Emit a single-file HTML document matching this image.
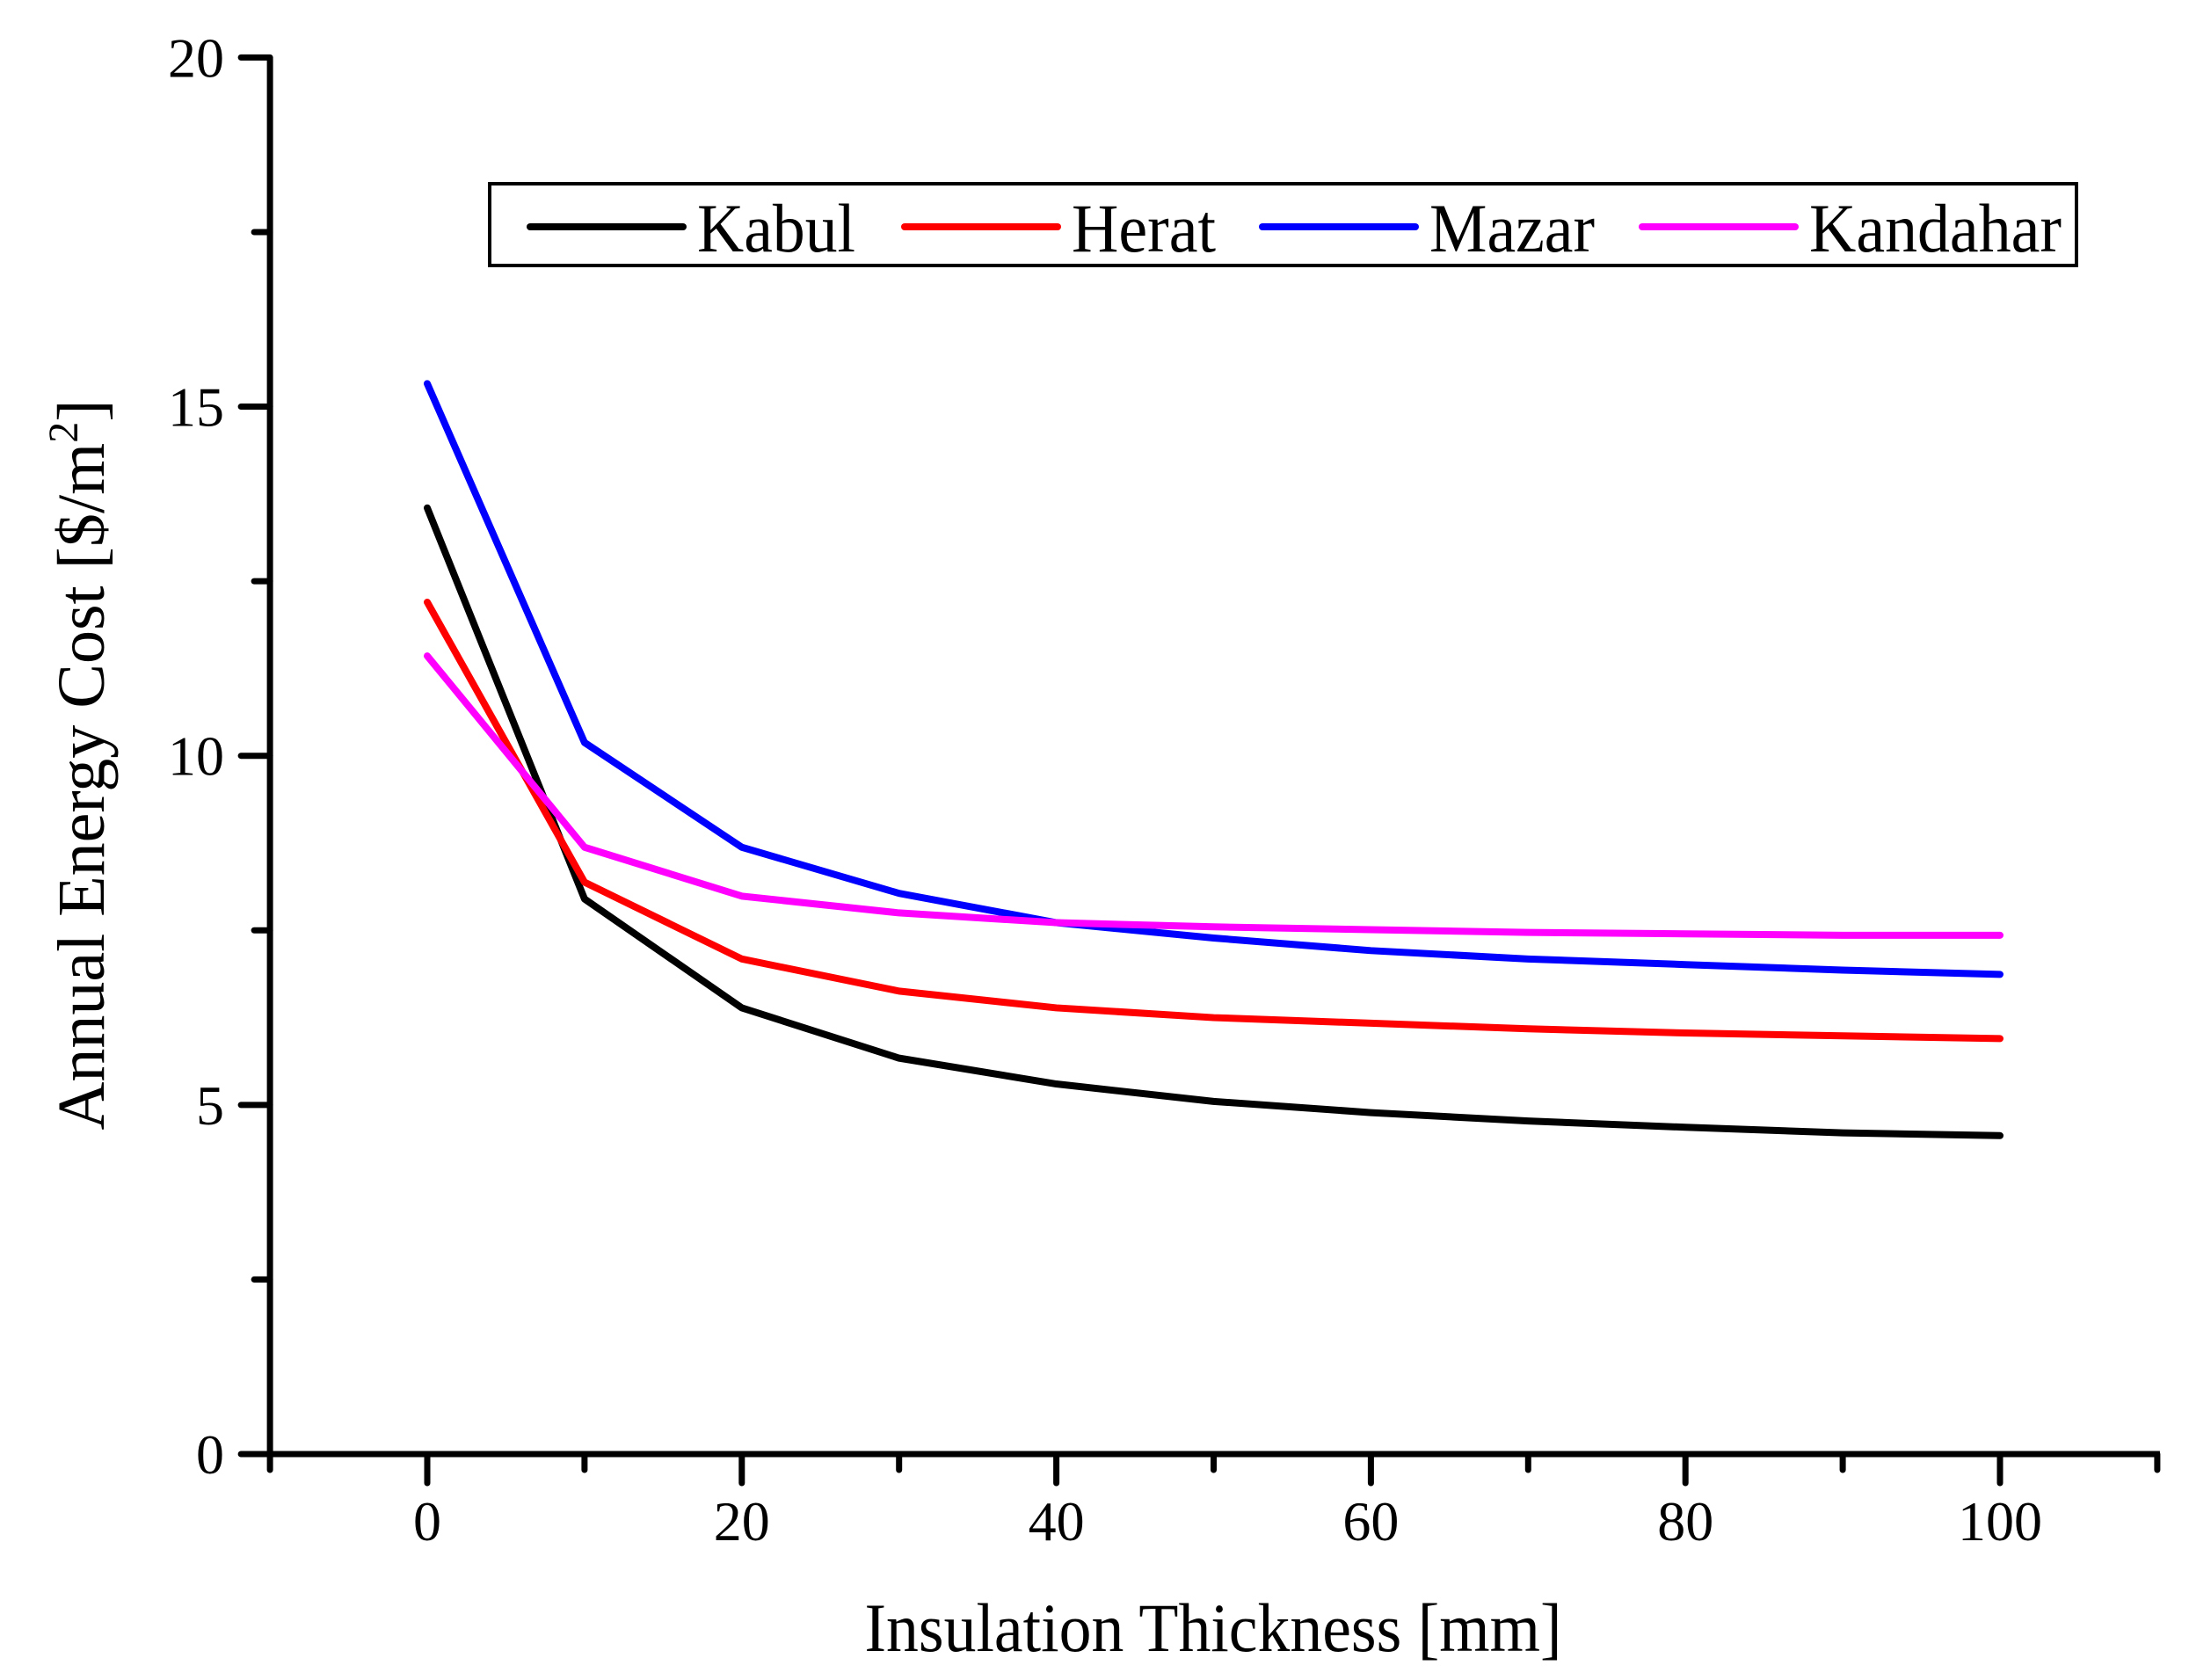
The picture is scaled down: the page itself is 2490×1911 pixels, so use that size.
<!DOCTYPE html>
<html><head><meta charset="utf-8"><style>
html,body{margin:0;padding:0;background:#fff;}
svg{display:block;font-family:"Liberation Serif","DejaVu Serif",serif;}
</style></head><body>
<svg id="chart" xmlns="http://www.w3.org/2000/svg" width="2490" height="1911" viewBox="0 0 2490 1911">
<g id="axes"></g>
<g id="series"></g>
<g id="legend">
  <rect x="557" y="209" width="1805" height="93" fill="#fff" stroke="#000" stroke-width="4"/>
</g>
<text x="1380" y="1878" font-size="78" text-anchor="middle" textLength="793" lengthAdjust="spacingAndGlyphs">Insulation Thickness [mm]</text>
<text transform="translate(118,870) rotate(-90)" font-size="76" text-anchor="middle">Annual Energy Cost [$/m<tspan dy="-30" font-size="48">2</tspan><tspan dy="30">]</tspan></text>
</svg>
<script>
const xValues = [0,10,20,30,40,50,60,70,80,90,100];
const kabul = [13.55,7.95,6.39,5.67,5.3,5.05,4.89,4.77,4.68,4.6,4.56];
const herat = [12.2,8.19,7.09,6.63,6.39,6.25,6.17,6.09,6.03,5.99,5.95];
const mazar = [15.33,10.19,8.69,8.03,7.61,7.39,7.21,7.09,7.01,6.93,6.87];
const kandahar = [11.43,8.69,7.99,7.75,7.61,7.55,7.51,7.47,7.45,7.43,7.43];
const seriesNames = ["Kabul","Herat","Mazar","Kandahar"];
const xTickLabels = ["0","20","40","60","80","100"];
const yTickLabels = ["0","5","10","15","20"];

const NS="http://www.w3.org/2000/svg";
const X0=486, XS=17.89, Y0=1654, YS=79.43;
function sx(v){return X0+v*XS;}
function sy(v){return Y0-v*YS;}
function mk(tag,attrs,parent){const e=document.createElementNS(NS,tag);for(const k in attrs)e.setAttribute(k,attrs[k]);parent.appendChild(e);return e;}

const axes=document.getElementById('axes');
let e;
e=mk('line',{x1:sx(-10),y1:sy(0),x2:sx(-10),y2:sy(20),stroke:'#000','stroke-width':7},axes);


e=mk('line',{x1:sx(-10)-33,y1:sy(0),x2:sx(110)+3,y2:sy(0),stroke:'#000','stroke-width':7},axes);


for(let v=0;v<=20;v+=2.5){
  const major=(v%5===0);
  e=mk('line',{x1:sx(-10)-(major?33:18),y1:sy(v),x2:sx(-10),y2:sy(v),stroke:'#000','stroke-width':7,'stroke-linecap':'round'},axes);
  
  
}
yTickLabels.forEach(l=>{
  const t=mk('text',{x:255,y:sy(+l)+22,'font-size':64,'text-anchor':'end'},axes);t.textContent=l;
  
  
});
for(let v=-10;v<=110;v+=10){
  const major=(v%20===0);
  e=mk('line',{x1:sx(v),y1:sy(0),x2:sx(v),y2:sy(0)+(major?33:18),stroke:'#000','stroke-width':7,'stroke-linecap':'round'},axes);
  
  
}
xTickLabels.forEach(l=>{
  const t=mk('text',{x:sx(+l),y:1752,'font-size':64,'text-anchor':'middle'},axes);t.textContent=l;
  
  
});

const colors=['#000000','#ff0000','#0000ff','#ff00ff'];
const data=[kabul,herat,mazar,kandahar];
const sg=document.getElementById('series');
data.forEach((arr,i)=>{
  const pts=arr.map((v,j)=>sx(xValues[j])+','+sy(v)).join(' ');
  const p=mk('polyline',{points:pts,fill:'none',stroke:colors[i],'stroke-width':8,'stroke-linejoin':'round','stroke-linecap':'round'},sg);
  
  
});

const lg=document.getElementById('legend');
const lineX=[603,1029,1436,1868];
const textW=[180,164,188,287];
seriesNames.forEach((n,i)=>{
  const l=mk('line',{x1:lineX[i],y1:258,x2:lineX[i]+174,y2:258,stroke:colors[i],'stroke-width':8,'stroke-linecap':'round'},lg);
  
  
  const t=mk('text',{x:lineX[i]+190,y:286,'font-size':78,textLength:textW[i],lengthAdjust:'spacingAndGlyphs'},lg);
  t.textContent=n;
  
  
});
</script>
</body></html>
